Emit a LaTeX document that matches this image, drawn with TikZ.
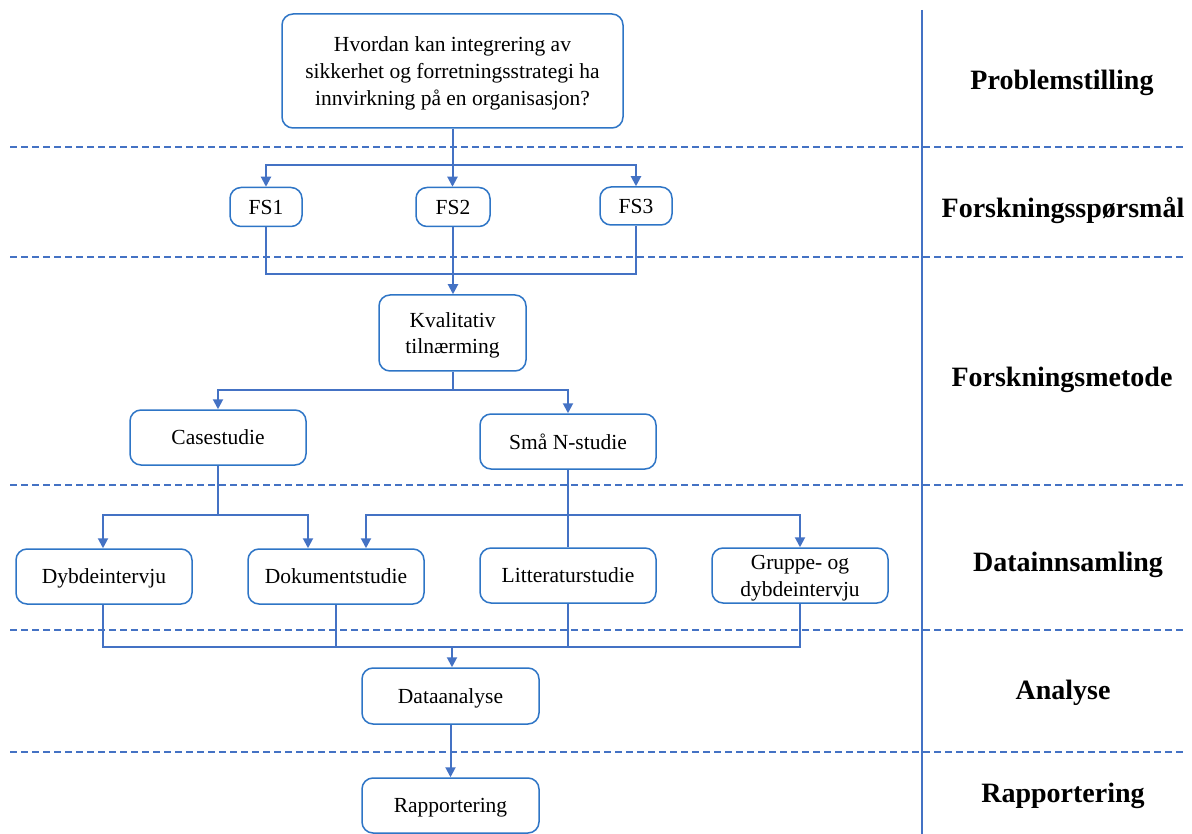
\documentclass[tikz,border=0pt]{standalone}
\usepackage{fontspec}
\setmainfont{Liberation Serif}
\usetikzlibrary{arrows.meta}
\definecolor{boxblue}{HTML}{2E75C6}
\definecolor{linkblue}{HTML}{4472C4}
\begin{document}
\begin{tikzpicture}[x=1pt,y=-1pt,
  box/.style={draw=boxblue,line width=1.5pt,rounded corners=11pt,fill=white,
    align=center,inner sep=0pt,text depth=0pt,font=\fontsize{21.5}{27}\selectfont},
  link/.style={draw=linkblue,line width=2pt},
  arr/.style={link,-{Triangle[length=10pt,width=10pt]}},
  sep/.style={draw=linkblue,line width=1.8pt,dash pattern=on 7pt off 4pt},
  phase/.style={font=\fontsize{28}{30}\selectfont\bfseries,anchor=center}]
\useasboundingbox (0,0) rectangle (1192,834);

% phase separators
\coordinate (sL1) at (10,147);  \coordinate (sR1) at (1186,147);
\coordinate (sL2) at (10,257);  \coordinate (sR2) at (1186,257);
\coordinate (sL3) at (10,485);  \coordinate (sR3) at (1186,485);
\coordinate (sL4) at (10,630);  \coordinate (sR4) at (1186,630);
\coordinate (sL5) at (10,752);  \coordinate (sR5) at (1186,752);
\foreach \i in {1,...,5} \draw[sep] (sL\i) -- (sR\i);
\coordinate (vT) at (922,10); \coordinate (vB) at (922,834);
\draw[link] (vT) -- (vB);

% phase labels
\node[phase] (p1) at (1062,83)  {Problemstilling};
\node[phase] (p2) at (1063,210) {Forskningsspørsmål};
\node[phase] (p3) at (1062,380) {Forskningsmetode};
\node[phase] (p4) at (1068,565) {Datainnsamling};
\node[phase] (p5) at (1063,693) {Analyse};
\node[phase] (p6) at (1063,796) {Rapportering};

% boxes
\node[box,minimum width=341pt,minimum height=114pt] (q) at (452.5,71)
  {Hvordan kan integrering av\\sikkerhet og forretningsstrategi ha\\innvirkning på en organisasjon?};
\node[box,minimum width=72pt,minimum height=39pt] (fs1) at (266,207) {FS1};
\node[box,minimum width=74pt,minimum height=39pt] (fs2) at (453,207) {FS2};
\node[box,minimum width=72pt,minimum height=38pt] (fs3) at (636,206) {FS3};
\node[box,minimum width=147pt,minimum height=76pt,font=\fontsize{21.5}{25.5}\selectfont] (kv) at (452.5,333) {Kvalitativ\\tilnærming};
\node[box,minimum width=176pt,minimum height=55pt] (cs) at (218,437.5) {Casestudie};
\node[box,minimum width=176pt,minimum height=55pt] (sn) at (568,441.5) {Små N-studie};
\node[box,minimum width=176pt,minimum height=55pt] (dy) at (104,576.5) {Dybdeintervju};
\node[box,minimum width=176pt,minimum height=55pt] (dk) at (336,576.5) {Dokumentstudie};
\node[box,minimum width=176pt,minimum height=55pt] (lt) at (568,575.5) {Litteraturstudie};
\node[box,minimum width=176pt,minimum height=55pt] (gr) at (800,575.5) {Gruppe- og\\dybdeintervju};
\node[box,minimum width=177pt,minimum height=56pt] (da) at (450.5,696) {Dataanalyse};
\node[box,minimum width=177pt,minimum height=55pt] (rp) at (450.5,805.5) {Rapportering};

% problem -> research questions
\coordinate (qj) at (452.5,165);
\draw[link] (q.south) -- (qj);
\draw[arr] (qj) -- (q.south |- fs2.north);
\draw[arr] (qj) -| (fs3.north);
\draw[arr] (qj) -| (fs1.north);

% research questions -> method
\draw[link] (fs1.south) |- (453,274) -| (fs3.south);
\draw[arr] (fs2.south) -- (fs2.south |- kv.north);

% method -> designs
\coordinate (kj) at (452.5,390);
\draw[link] (kv.south) -- (kj);
\draw[arr] (kj) -| (cs.north);
\draw[arr] (kj) -| (sn.north);

% designs -> data collection
\coordinate (cj) at (218,515);
\draw[link] (cs.south) -- (cj);
\draw[arr] (cj) -| ([xshift=-1pt]dy.north);
\draw[arr] (cj) -| ([xshift=-28pt]dk.north);
\coordinate (sj) at (568,515);
\draw[link] (sn.south) -- (lt.north);
\draw[arr] (sj) -| ([xshift=30pt]dk.north);
\draw[arr] (sj) -| (gr.north);

% data collection -> analysis
\coordinate (aj) at (452,647);
\draw[link] ([xshift=-1pt]dy.south) |- (gr.south |- aj) -- (gr.south);
\draw[link] (dk.south) -- (dk.south |- aj);
\draw[link] (lt.south) -- (lt.south |- aj);
\draw[arr] (aj) -- (aj |- da.north);

% analysis -> reporting
\draw[arr] (da.south) -- (rp.north);
\end{tikzpicture}
\end{document}
